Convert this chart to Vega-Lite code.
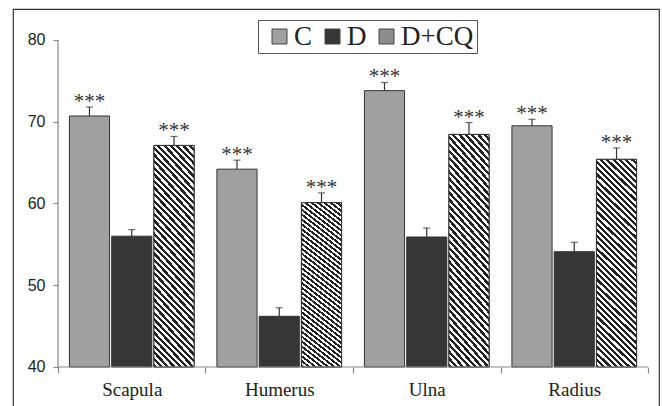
{
  "$schema": "https://vega.github.io/schema/vega-lite/v6.json",
  "width": 646,
  "height": 401,
  "autosize": "none",
  "padding": {"left": 13, "top": 9, "right": 3, "bottom": 0},
  "background": "white",
  "config": {
    "view": {"stroke": "#333", "strokeWidth": 1.2},
    "axisX": {"domain": false, "offset": -43, "tickBand": "extent", "tickSize": 6, "tickColor": "#888", "tickWidth": 1.2, "labelAngle": 0, "labelFont": "Liberation Serif", "labelFontSize": 19, "labelColor": "#222", "labelPadding": 7, "grid": false},
    "axisY": {"domain": false, "offset": -45, "grid": false, "tickSize": 5, "tickColor": "#888", "tickWidth": 1.2, "labelFont": "Liberation Sans", "labelFontSize": 16, "labelColor": "#222", "labelPadding": 8}
  },
  "data": {
    "values": [
      {"bone": "Scapula", "group": "C", "value": 70.7, "err": 71.8, "sig": "***"},
      {"bone": "Scapula", "group": "D", "value": 56.0, "err": 56.8, "sig": ""},
      {"bone": "Scapula", "group": "D+CQ", "value": 67.1, "err": 68.2, "sig": "***"},
      {"bone": "Humerus", "group": "C", "value": 64.2, "err": 65.3, "sig": "***"},
      {"bone": "Humerus", "group": "D", "value": 46.2, "err": 47.25, "sig": ""},
      {"bone": "Humerus", "group": "D+CQ", "value": 60.1, "err": 61.3, "sig": "***"},
      {"bone": "Ulna", "group": "C", "value": 73.8, "err": 74.8, "sig": "***"},
      {"bone": "Ulna", "group": "D", "value": 55.9, "err": 57.0, "sig": ""},
      {"bone": "Ulna", "group": "D+CQ", "value": 68.45, "err": 69.9, "sig": "***"},
      {"bone": "Radius", "group": "C", "value": 69.5, "err": 70.3, "sig": "***"},
      {"bone": "Radius", "group": "D", "value": 54.1, "err": 55.25, "sig": ""},
      {"bone": "Radius", "group": "D+CQ", "value": 65.4, "err": 66.8, "sig": "***"}
    ]
  },
  "layer": [
    {
      "mark": {"type": "bar", "stroke": "#333", "strokeWidth": 1},
      "encoding": {
        "x": {
          "field": "bone", "type": "nominal",
          "scale": {"domain": ["Scapula", "Humerus", "Ulna", "Radius"], "paddingInner": 0, "paddingOuter": 0.1898, "align": 0.8036},
          "axis": {"title": null}
        },
        "xOffset": {"field": "group", "type": "nominal", "scale": {"domain": ["C", "D", "D+CQ"], "paddingInner": 0.05, "paddingOuter": 0.27}},
        "y": {
          "field": "value", "type": "quantitative",
          "scale": {"domain": [34.74, 83.79], "nice": false, "zero": false},
          "axis": {"title": null, "values": [40, 50, 60, 70, 80]}
        },
        "y2": {"datum": 40},
        "color": {
          "field": "group", "type": "nominal",
          "scale": {"domain": ["C", "D", "D+CQ"], "range": ["#a0a0a0", "#363636", "#8c8c8c"]},
          "legend": {"orient": "none", "legendX": 245, "legendY": 11, "direction": "horizontal", "columns": 3, "gridAlign": "none", "title": null, "symbolType": "square", "symbolSize": 225, "symbolStrokeColor": "#444", "symbolStrokeWidth": 1, "symbolOpacity": 1, "labelFont": "Liberation Serif", "labelFontSize": 27, "labelColor": "#222", "labelOffset": 1, "columnPadding": 1, "padding": 3, "symbolOffset": 5, "strokeColor": "#555", "fillColor": "white", "labelLimit": 0}
        }
      }
    },
    {
      "transform": [{"filter": "datum.group === 'D+CQ'"}],
      "mark": {
        "type": "bar", "stroke": "#333", "strokeWidth": 1,
        "fill": {
          "gradient": "linear", "x1": 0, "y1": 1, "x2": 0.218, "y2": -0.1485,
          "stops": [
            {"offset": 0, "color": "#222"},
            {"offset": 0.0125, "color": "#222"}, {"offset": 0.0125, "color": "#fff"},
            {"offset": 0.025, "color": "#fff"}, {"offset": 0.025, "color": "#222"},
            {"offset": 0.0375, "color": "#222"}, {"offset": 0.0375, "color": "#fff"},
            {"offset": 0.05, "color": "#fff"}, {"offset": 0.05, "color": "#222"},
            {"offset": 0.0625, "color": "#222"}, {"offset": 0.0625, "color": "#fff"},
            {"offset": 0.075, "color": "#fff"}, {"offset": 0.075, "color": "#222"},
            {"offset": 0.0875, "color": "#222"}, {"offset": 0.0875, "color": "#fff"},
            {"offset": 0.1, "color": "#fff"}, {"offset": 0.1, "color": "#222"},
            {"offset": 0.1125, "color": "#222"}, {"offset": 0.1125, "color": "#fff"},
            {"offset": 0.125, "color": "#fff"}, {"offset": 0.125, "color": "#222"},
            {"offset": 0.1375, "color": "#222"}, {"offset": 0.1375, "color": "#fff"},
            {"offset": 0.15, "color": "#fff"}, {"offset": 0.15, "color": "#222"},
            {"offset": 0.1625, "color": "#222"}, {"offset": 0.1625, "color": "#fff"},
            {"offset": 0.175, "color": "#fff"}, {"offset": 0.175, "color": "#222"},
            {"offset": 0.1875, "color": "#222"}, {"offset": 0.1875, "color": "#fff"},
            {"offset": 0.2, "color": "#fff"}, {"offset": 0.2, "color": "#222"},
            {"offset": 0.2125, "color": "#222"}, {"offset": 0.2125, "color": "#fff"},
            {"offset": 0.225, "color": "#fff"}, {"offset": 0.225, "color": "#222"},
            {"offset": 0.2375, "color": "#222"}, {"offset": 0.2375, "color": "#fff"},
            {"offset": 0.25, "color": "#fff"}, {"offset": 0.25, "color": "#222"},
            {"offset": 0.2625, "color": "#222"}, {"offset": 0.2625, "color": "#fff"},
            {"offset": 0.275, "color": "#fff"}, {"offset": 0.275, "color": "#222"},
            {"offset": 0.2875, "color": "#222"}, {"offset": 0.2875, "color": "#fff"},
            {"offset": 0.3, "color": "#fff"}, {"offset": 0.3, "color": "#222"},
            {"offset": 0.3125, "color": "#222"}, {"offset": 0.3125, "color": "#fff"},
            {"offset": 0.325, "color": "#fff"}, {"offset": 0.325, "color": "#222"},
            {"offset": 0.3375, "color": "#222"}, {"offset": 0.3375, "color": "#fff"},
            {"offset": 0.35, "color": "#fff"}, {"offset": 0.35, "color": "#222"},
            {"offset": 0.3625, "color": "#222"}, {"offset": 0.3625, "color": "#fff"},
            {"offset": 0.375, "color": "#fff"}, {"offset": 0.375, "color": "#222"},
            {"offset": 0.3875, "color": "#222"}, {"offset": 0.3875, "color": "#fff"},
            {"offset": 0.4, "color": "#fff"}, {"offset": 0.4, "color": "#222"},
            {"offset": 0.4125, "color": "#222"}, {"offset": 0.4125, "color": "#fff"},
            {"offset": 0.425, "color": "#fff"}, {"offset": 0.425, "color": "#222"},
            {"offset": 0.4375, "color": "#222"}, {"offset": 0.4375, "color": "#fff"},
            {"offset": 0.45, "color": "#fff"}, {"offset": 0.45, "color": "#222"},
            {"offset": 0.4625, "color": "#222"}, {"offset": 0.4625, "color": "#fff"},
            {"offset": 0.475, "color": "#fff"}, {"offset": 0.475, "color": "#222"},
            {"offset": 0.4875, "color": "#222"}, {"offset": 0.4875, "color": "#fff"},
            {"offset": 0.5, "color": "#fff"}, {"offset": 0.5, "color": "#222"},
            {"offset": 0.5125, "color": "#222"}, {"offset": 0.5125, "color": "#fff"},
            {"offset": 0.525, "color": "#fff"}, {"offset": 0.525, "color": "#222"},
            {"offset": 0.5375, "color": "#222"}, {"offset": 0.5375, "color": "#fff"},
            {"offset": 0.55, "color": "#fff"}, {"offset": 0.55, "color": "#222"},
            {"offset": 0.5625, "color": "#222"}, {"offset": 0.5625, "color": "#fff"},
            {"offset": 0.575, "color": "#fff"}, {"offset": 0.575, "color": "#222"},
            {"offset": 0.5875, "color": "#222"}, {"offset": 0.5875, "color": "#fff"},
            {"offset": 0.6, "color": "#fff"}, {"offset": 0.6, "color": "#222"},
            {"offset": 0.6125, "color": "#222"}, {"offset": 0.6125, "color": "#fff"},
            {"offset": 0.625, "color": "#fff"}, {"offset": 0.625, "color": "#222"},
            {"offset": 0.6375, "color": "#222"}, {"offset": 0.6375, "color": "#fff"},
            {"offset": 0.65, "color": "#fff"}, {"offset": 0.65, "color": "#222"},
            {"offset": 0.6625, "color": "#222"}, {"offset": 0.6625, "color": "#fff"},
            {"offset": 0.675, "color": "#fff"}, {"offset": 0.675, "color": "#222"},
            {"offset": 0.6875, "color": "#222"}, {"offset": 0.6875, "color": "#fff"},
            {"offset": 0.7, "color": "#fff"}, {"offset": 0.7, "color": "#222"},
            {"offset": 0.7125, "color": "#222"}, {"offset": 0.7125, "color": "#fff"},
            {"offset": 0.725, "color": "#fff"}, {"offset": 0.725, "color": "#222"},
            {"offset": 0.7375, "color": "#222"}, {"offset": 0.7375, "color": "#fff"},
            {"offset": 0.75, "color": "#fff"}, {"offset": 0.75, "color": "#222"},
            {"offset": 0.7625, "color": "#222"}, {"offset": 0.7625, "color": "#fff"},
            {"offset": 0.775, "color": "#fff"}, {"offset": 0.775, "color": "#222"},
            {"offset": 0.7875, "color": "#222"}, {"offset": 0.7875, "color": "#fff"},
            {"offset": 0.8, "color": "#fff"}, {"offset": 0.8, "color": "#222"},
            {"offset": 0.8125, "color": "#222"}, {"offset": 0.8125, "color": "#fff"},
            {"offset": 0.825, "color": "#fff"}, {"offset": 0.825, "color": "#222"},
            {"offset": 0.8375, "color": "#222"}, {"offset": 0.8375, "color": "#fff"},
            {"offset": 0.85, "color": "#fff"}, {"offset": 0.85, "color": "#222"},
            {"offset": 0.8625, "color": "#222"}, {"offset": 0.8625, "color": "#fff"},
            {"offset": 0.875, "color": "#fff"}, {"offset": 0.875, "color": "#222"},
            {"offset": 0.8875, "color": "#222"}, {"offset": 0.8875, "color": "#fff"},
            {"offset": 0.9, "color": "#fff"}, {"offset": 0.9, "color": "#222"},
            {"offset": 0.9125, "color": "#222"}, {"offset": 0.9125, "color": "#fff"},
            {"offset": 0.925, "color": "#fff"}, {"offset": 0.925, "color": "#222"},
            {"offset": 0.9375, "color": "#222"}, {"offset": 0.9375, "color": "#fff"},
            {"offset": 0.95, "color": "#fff"}, {"offset": 0.95, "color": "#222"},
            {"offset": 0.9625, "color": "#222"}, {"offset": 0.9625, "color": "#fff"},
            {"offset": 0.975, "color": "#fff"}, {"offset": 0.975, "color": "#222"},
            {"offset": 0.9875, "color": "#222"}, {"offset": 0.9875, "color": "#fff"},
            {"offset": 1, "color": "#fff"}
          ]
        }
      },
      "encoding": {
        "x": {"field": "bone", "type": "nominal", "axis": {"title": null}},
        "xOffset": {"field": "group", "type": "nominal"},
        "y": {"field": "value", "type": "quantitative", "axis": {"title": null, "values": [40, 50, 60, 70, 80]}},
        "y2": {"datum": 40}
      }
    },
    {
      "mark": {"type": "rule", "color": "#333", "strokeWidth": 1.2},
      "encoding": {
        "x": {"field": "bone", "type": "nominal", "axis": {"title": null}},
        "xOffset": {"field": "group", "type": "nominal"},
        "y": {"field": "value", "type": "quantitative", "axis": {"title": null, "values": [40, 50, 60, 70, 80]}},
        "y2": {"field": "err"}
      }
    },
    {
      "mark": {"type": "tick", "color": "#333", "size": 7, "thickness": 1.2},
      "encoding": {
        "x": {"field": "bone", "type": "nominal", "axis": {"title": null}},
        "xOffset": {"field": "group", "type": "nominal"},
        "y": {"field": "err", "type": "quantitative", "axis": {"title": null, "values": [40, 50, 60, 70, 80]}}
      }
    },
    {
      "transform": [{"filter": "datum.sig !== ''"}],
      "mark": {"type": "text", "font": "Liberation Serif", "fontSize": 21, "color": "#333", "baseline": "alphabetic", "dy": 1},
      "encoding": {
        "x": {"field": "bone", "type": "nominal", "axis": {"title": null}},
        "xOffset": {"field": "group", "type": "nominal"},
        "y": {"field": "err", "type": "quantitative", "axis": {"title": null, "values": [40, 50, 60, 70, 80]}},
        "text": {"field": "sig"}
      }
    },
    {
      "data": {"values": [{}]},
      "mark": {"type": "rule", "color": "#888", "strokeWidth": 1.2},
      "encoding": {
        "x": {"datum": "Scapula", "type": "nominal", "bandPosition": 0, "axis": {"title": null}},
        "y": {"datum": 40, "type": "quantitative", "axis": {"title": null, "values": [40, 50, 60, 70, 80]}},
        "y2": {"datum": 80}
      }
    },
    {
      "data": {"values": [{}]},
      "mark": {"type": "rule", "color": "#888", "strokeWidth": 1.2},
      "encoding": {
        "x": {"datum": "Scapula", "type": "nominal", "bandPosition": 0, "axis": {"title": null}},
        "x2": {"datum": "Radius", "bandPosition": 1},
        "y": {"datum": 40, "type": "quantitative", "axis": {"title": null, "values": [40, 50, 60, 70, 80]}}
      }
    }
  ]
}
